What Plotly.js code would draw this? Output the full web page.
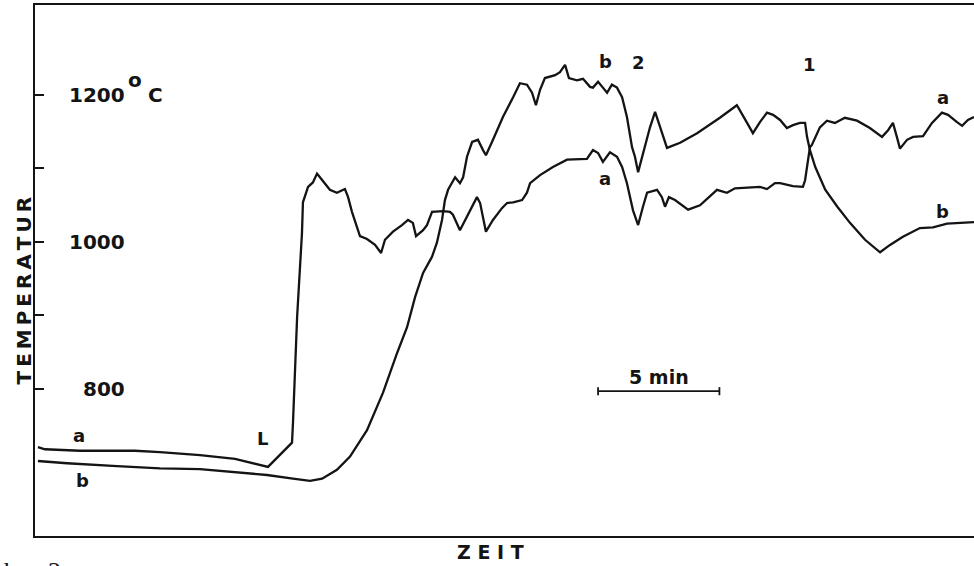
<!DOCTYPE html>
<html><head><meta charset="utf-8">
<script src="https://cdn.plot.ly/plotly-3.0.1.min.js"></script>
<style>html,body{margin:0;padding:0;background:#fff;}#chart{width:974px;height:566px;}</style>
</head><body><div id="chart"></div>
<script>
// Curve a (minutes, °C)
const timeA = [0.12,0.41,1.85,4.12,5.15,6.80,8.24,9.60,10.59,10.63,10.80,10.92,11.00,11.04,11.25,11.45,11.62,11.74,12.15,12.44,12.77,12.90,13.06,13.39,13.68,14.01,14.26,14.42,14.75,15.12,15.37,15.57,15.70,15.99,16.15,16.36,16.81,17.10,17.22,17.51,17.84,18.21,18.34,18.58,18.87,19.24,19.45,19.70,20.07,20.27,20.40,20.81,21.34,21.92,22.74,22.99,23.20,23.40,23.69,23.98,24.19,24.39,24.64,24.85,25.05,25.22,25.63,25.83,25.96,26.12,26.37,26.91,27.40,28.10,28.51,28.84,29.87,30.16,30.49,30.70,31.23,31.64,31.73,31.85,31.93,32.01,32.34,32.63,32.96,33.37,33.87,34.40,34.90,35.15,35.35,35.52,35.64,35.93,36.18,36.59,36.96,37.37,37.62,37.99,38.20,38.44,38.69];
const tempA = [721,718,716,716,714,710,705,694,727,754,898,966,1012,1054,1075,1081,1093,1088,1071,1067,1072,1061,1041,1008,1004,996,985,1003,1014,1023,1030,1026,1008,1016,1023,1041,1042,1041,1037,1016,1037,1061,1053,1014,1030,1046,1053,1054,1057,1067,1080,1091,1102,1112,1113,1125,1121,1109,1122,1116,1102,1080,1043,1023,1048,1067,1071,1061,1048,1061,1057,1044,1050,1071,1067,1073,1075,1072,1080,1080,1076,1075,1084,1112,1129,1132,1156,1165,1162,1169,1165,1155,1143,1152,1162,1142,1127,1139,1143,1144,1162,1176,1173,1163,1158,1166,1170];
// Curve b (minutes, °C)
const timeB = [0.12,1.32,3.38,5.15,6.80,8.16,9.56,10.63,11.33,11.83,12.44,12.98,13.68,14.34,14.63,14.92,15.33,15.66,15.99,16.36,16.56,16.77,16.89,17.02,17.31,17.51,17.64,17.80,18.01,18.25,18.46,18.58,18.83,19.28,19.70,19.98,20.27,20.48,20.64,20.81,21.01,21.43,21.63,21.84,22.00,22.33,22.58,22.87,22.99,23.20,23.40,23.57,23.77,23.98,24.19,24.39,24.60,24.72,24.85,25.05,25.34,25.55,25.75,26.04,26.58,27.28,28.22,28.92,29.34,29.58,29.87,30.16,30.41,30.70,30.98,31.23,31.52,31.73,31.81,31.93,32.15,32.56,33.06,33.58,34.20,34.82,35.23,35.76,36.46,37.00,37.58,38.40,38.69];
const tempB = [702,699,695,692,691,687,683,678,675,678,690,708,744,795,822,849,884,925,958,980,999,1030,1057,1071,1088,1080,1088,1116,1136,1139,1125,1118,1136,1170,1197,1216,1214,1203,1186,1207,1223,1227,1231,1241,1223,1220,1222,1211,1210,1218,1210,1203,1214,1210,1197,1170,1129,1116,1095,1121,1156,1177,1156,1128,1135,1148,1169,1186,1162,1148,1163,1176,1173,1166,1155,1159,1162,1162,1143,1125,1102,1071,1048,1026,1003,986,996,1007,1019,1020,1025,1027,1027];
// Axis ticks and labels
const yTickValues = [800, 900, 1000, 1100, 1200];
const yLabelValues = [1200, 1000, 800];
const yLabelTexts = ['1200', '1000', '800'];
const yUnitDegree = 'o', yUnit = 'C';
// Curve labels
const curveLabelTexts = ['a','b','L','b','2','a','1','a','b'];
const curveLabelTimes = [1.81,1.94,9.39,23.49,24.85,23.49,31.93,37.41,37.41];
const curveLabelTemps = [737,676,733,1245,1244,1087,1241,1197,1041];
// Scale bar
const scaleStart = 23.2, scaleMinutes = 5, scaleTemp = 797;

const W = 974, H = 566, L = 35, T = 5, R = 0, B = 30;
const pw = W - L - R, ph = H - T - B;
const px2x = p => (p - L) / pw;
const px2y = p => (H - B - p) / ph;
const ink = '#141414';
const FONT = 'DejaVu Sans, Liberation Sans, sans-serif';

const traces = [
  {x: timeA, y: tempA, mode: 'lines', line: {color: ink, width: 2.3}, hoverinfo: 'skip'},
  {x: timeB, y: tempB, mode: 'lines', line: {color: ink, width: 2.3}, hoverinfo: 'skip'}
];

const ann = [];
yLabelValues.forEach((v, i) => {
  ann.push({x: px2x(127), xref: 'paper', y: v, yref: 'y',
    xanchor: 'right', yanchor: 'middle', showarrow: false,
    text: '<b>' + yLabelTexts[i] + '</b>', font: {family: FONT, size: 20, color: ink}});
});
ann.push({x: px2x(135), xref: 'paper', y: px2y(80), yref: 'paper', xanchor: 'center', yanchor: 'middle',
  showarrow: false, text: '<b>' + yUnitDegree + '</b>', font: {family: FONT, size: 20, color: ink}});
ann.push({x: px2x(155), xref: 'paper', y: yLabelValues[0], yref: 'y', xanchor: 'center', yanchor: 'middle',
  showarrow: false, text: '<b>' + yUnit + '</b>', font: {family: FONT, size: 20, color: ink}});
curveLabelTexts.forEach((t, i) => {
  ann.push({x: curveLabelTimes[i], y: curveLabelTemps[i], xref: 'x', yref: 'y',
    showarrow: false, text: '<b>' + t + '</b>', font: {family: FONT, size: 18, color: ink},
    xanchor: 'center', yanchor: 'middle'});
});
ann.push({x: scaleStart + scaleMinutes / 2, y: scaleTemp + 19, xref: 'x', yref: 'y', showarrow: false,
  text: '<b>5 min</b>', font: {family: FONT, size: 19, color: ink}, xanchor: 'center', yanchor: 'middle'});
ann.push({x: px2x(23.5), y: px2y(291), xref: 'paper', yref: 'paper', showarrow: false, textangle: -90,
  text: '<b>T\u2009E\u2009M\u2009P\u2009E\u2009R\u2009A\u2009T\u2009U\u2009R</b>', font: {family: FONT, size: 20, color: ink},
  xanchor: 'center', yanchor: 'middle'});
ann.push({x: px2x(490), y: px2y(552), xref: 'paper', yref: 'paper', showarrow: false,
  text: '<b>Z E I T</b>', font: {family: FONT, size: 19, color: ink}, xanchor: 'center', yanchor: 'middle'});
ann.push({x: px2x(10), y: px2y(555), xref: 'paper', yref: 'paper', showarrow: false,
  text: 'b', font: {family: 'Liberation Serif, serif', size: 26, color: ink}, xanchor: 'center', yanchor: 'top'});
ann.push({x: px2x(58), y: px2y(555), xref: 'paper', yref: 'paper', showarrow: false,
  text: '2.', font: {family: 'Liberation Serif, serif', size: 26, color: ink}, xanchor: 'center', yanchor: 'top'});

const capHalf = 5.5;
const shapes = [
  {type: 'line', xref: 'x', yref: 'y', x0: scaleStart, x1: scaleStart + scaleMinutes, y0: scaleTemp, y1: scaleTemp, line: {color: ink, width: 1.8}},
  {type: 'line', xref: 'x', yref: 'y', x0: scaleStart, x1: scaleStart, y0: scaleTemp - capHalf, y1: scaleTemp + capHalf, line: {color: ink, width: 1.8}},
  {type: 'line', xref: 'x', yref: 'y', x0: scaleStart + scaleMinutes, x1: scaleStart + scaleMinutes, y0: scaleTemp - capHalf, y1: scaleTemp + capHalf, line: {color: ink, width: 1.8}}
];

const layout = {
  width: W, height: H, margin: {l: L, r: R, t: T, b: B, pad: 0},
  paper_bgcolor: '#fff', plot_bgcolor: '#fff', showlegend: false,
  xaxis: {range: [0, 38.69], showline: true, mirror: true, linecolor: ink, linewidth: 2,
    showgrid: false, zeroline: false, showticklabels: false, ticks: ''},
  yaxis: {range: [600, 1322.4], showline: true, mirror: false, linecolor: ink, linewidth: 2,
    showgrid: false, zeroline: false, showticklabels: false, ticks: 'inside',
    tickvals: yTickValues, ticklen: 9, tickwidth: 2, tickcolor: ink},
  annotations: ann, shapes: shapes
};
Plotly.newPlot('chart', traces, layout, {staticPlot: true, displayModeBar: false});
</script></body></html>
